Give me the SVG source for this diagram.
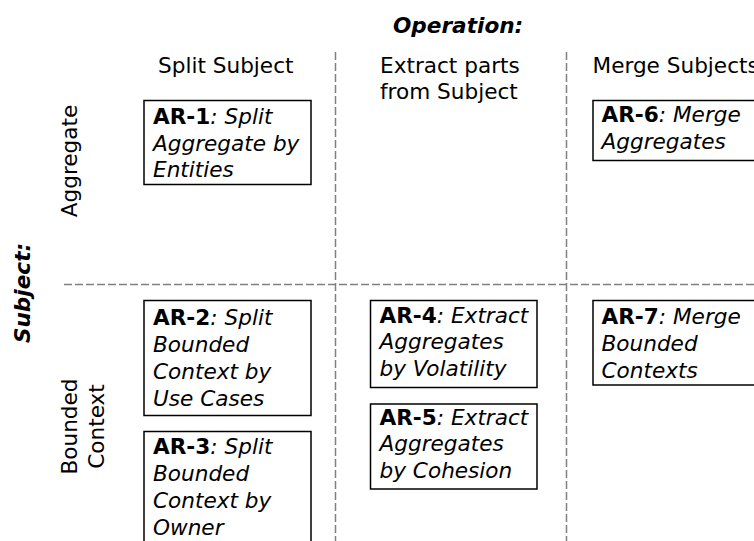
<svg xmlns="http://www.w3.org/2000/svg" width="754" height="541" viewBox="0 0 754 541">
  <style>
    text { font-family: "DejaVu Sans", "Liberation Sans", sans-serif; font-size: 21.6px; fill: #000; }
    .head { font-weight: bold; font-style: italic; }
    .b { font-weight: bold; font-style: normal; }
    .i { font-style: italic; }
    .box { fill: #fff; stroke: #000; stroke-width: 1.5; }
    .grid { stroke: #808080; stroke-width: 1.5; stroke-dasharray: 8 3; fill: none; }
  </style>
  <rect width="754" height="541" fill="#fff"/>

  <!-- dashed matrix lines -->
  <g id="grid">
    <line class="grid" x1="335.5" y1="52" x2="335.5" y2="541"/>
    <line class="grid" x1="566.5" y1="52" x2="566.5" y2="541"/>
    <line class="grid" x1="64" y1="284.5" x2="754" y2="284.5"/>
  </g>

  <!-- axis titles and headings -->
  <g id="axis-operation">
    <text class="head" x="393" y="32.5">Operation:</text>
    <text x="158" y="72.5">Split Subject</text>
    <text x="380" y="72.5">Extract parts</text>
    <text x="380" y="99">from Subject</text>
    <text x="592.5" y="72.5">Merge Subjects</text>
  </g>
  <g id="axis-subject">
    <text class="head" text-anchor="middle" transform="translate(30,293) rotate(-90)">Subject:</text>
    <text text-anchor="middle" transform="translate(77,161) rotate(-90)">Aggregate</text>
    <text text-anchor="middle" transform="translate(77,426.5) rotate(-90)">Bounded</text>
    <text text-anchor="middle" transform="translate(103.5,426.5) rotate(-90)">Context</text>
  </g>

  <!-- refactorings -->
  <g id="ar1">
    <rect class="box" x="144" y="100.5" width="167" height="84"/>
    <text x="153" y="123.5"><tspan class="b">AR-1</tspan><tspan class="i">: Split</tspan></text>
    <text class="i" x="153" y="150.5">Aggregate by</text>
    <text class="i" x="153" y="177">Entities</text>
  </g>
  <g id="ar2">
    <rect class="box" x="144" y="300.5" width="167" height="115"/>
    <text x="153" y="324.5"><tspan class="b">AR-2</tspan><tspan class="i">: Split</tspan></text>
    <text class="i" x="153" y="351.5">Bounded</text>
    <text class="i" x="153" y="378.5">Context by</text>
    <text class="i" x="153" y="405.5">Use Cases</text>
  </g>
  <g id="ar3">
    <rect class="box" x="144" y="431.5" width="167" height="115"/>
    <text x="153" y="453.5"><tspan class="b">AR-3</tspan><tspan class="i">: Split</tspan></text>
    <text class="i" x="153" y="480.5">Bounded</text>
    <text class="i" x="153" y="507.5">Context by</text>
    <text class="i" x="153" y="534.5">Owner</text>
  </g>
  <g id="ar4">
    <rect class="box" x="370.5" y="300.5" width="166.5" height="87"/>
    <text x="379.5" y="322.5"><tspan class="b">AR-4</tspan><tspan class="i">: Extract</tspan></text>
    <text class="i" x="379.5" y="349">Aggregates</text>
    <text class="i" x="379.5" y="375.5">by Volatility</text>
  </g>
  <g id="ar5">
    <rect class="box" x="370.5" y="404" width="166.5" height="85"/>
    <text x="379.5" y="424.5"><tspan class="b">AR-5</tspan><tspan class="i">: Extract</tspan></text>
    <text class="i" x="379.5" y="451">Aggregates</text>
    <text class="i" x="379.5" y="477.5">by Cohesion</text>
  </g>
  <g id="ar6">
    <rect class="box" x="593" y="100.5" width="167" height="60"/>
    <text x="601.5" y="121.5"><tspan class="b">AR-6</tspan><tspan class="i">: Merge</tspan></text>
    <text class="i" x="601.5" y="148.5">Aggregates</text>
  </g>
  <g id="ar7">
    <rect class="box" x="593" y="300.5" width="167" height="84.5"/>
    <text x="601.5" y="323.5"><tspan class="b">AR-7</tspan><tspan class="i">: Merge</tspan></text>
    <text class="i" x="601.5" y="350.5">Bounded</text>
    <text class="i" x="601.5" y="377.5">Contexts</text>
  </g>
</svg>
